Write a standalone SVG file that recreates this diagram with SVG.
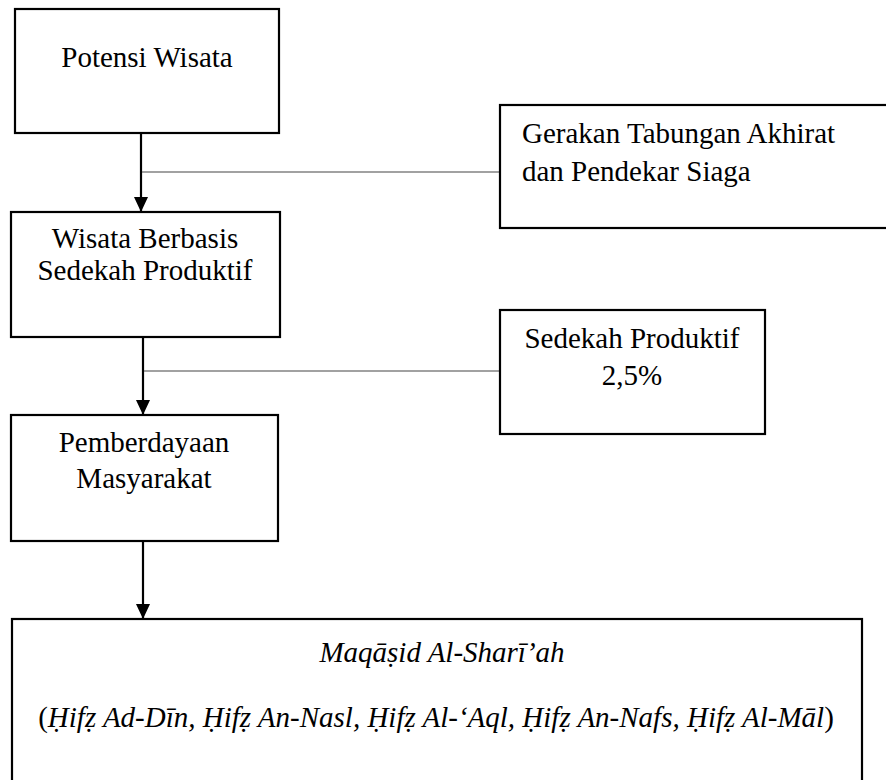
<svg xmlns="http://www.w3.org/2000/svg" width="886" height="780" viewBox="0 0 886 780" font-family="'Liberation Serif', Tinos, 'Times New Roman', 'DejaVu Serif', serif">
  <defs>
    <marker id="arrow" markerWidth="15" markerHeight="14" refX="15" refY="7" orient="auto" markerUnits="userSpaceOnUse">
      <path d="M0,0 L15,7 L0,14 Z" fill="#000"/>
    </marker>
    <style>
      .box { fill: #fff; stroke: #000; stroke-width: 2.2; }
      text { font-family: 'Liberation Serif', Tinos, 'Times New Roman', 'DejaVu Serif', serif; font-size: 29px; fill: #000; }
      .mid { text-anchor: middle; }
      .it { font-style: italic; }
      .flow { stroke: #000; stroke-width: 2.2; fill: none; }
      .side { stroke: #444; stroke-width: 1.2; fill: none; }
    </style>
  </defs>

  <rect width="886" height="780" fill="#fff"/>

  <!-- connectors -->
  <g id="connectors">
    <line class="flow" x1="141" y1="133" x2="141" y2="212" marker-end="url(#arrow)"/>
    <line class="side" x1="142" y1="172" x2="500" y2="172"/>
    <line class="flow" x1="143" y1="337" x2="143" y2="415" marker-end="url(#arrow)"/>
    <line class="side" x1="144" y1="371" x2="500" y2="371"/>
    <line class="flow" x1="143" y1="541" x2="143" y2="619" marker-end="url(#arrow)"/>
  </g>

  <g id="potensi-wisata">
    <rect class="box" x="15" y="9" width="264" height="124"/>
    <text class="mid" x="147" y="67">Potensi Wisata</text>
  </g>

  <g id="gerakan-tabungan">
    <rect class="box" x="500" y="105" width="400" height="123"/>
    <text x="522" y="143">Gerakan Tabungan Akhirat</text>
    <text x="522" y="181">dan Pendekar Siaga</text>
  </g>

  <g id="wisata-berbasis">
    <rect class="box" x="11" y="212" width="269" height="125"/>
    <text class="mid" x="145" y="248">Wisata Berbasis</text>
    <text class="mid" x="145" y="280">Sedekah Produktif</text>
  </g>

  <g id="sedekah-produktif">
    <rect class="box" x="500" y="310" width="265" height="124"/>
    <text class="mid" x="632" y="348">Sedekah Produktif</text>
    <text class="mid" x="632" y="385">2,5%</text>
  </g>

  <g id="pemberdayaan">
    <rect class="box" x="11" y="415" width="267" height="126"/>
    <text class="mid" x="144" y="452">Pemberdayaan</text>
    <text class="mid" x="144" y="488">Masyarakat</text>
  </g>

  <g id="maqasid">
    <rect class="box" x="12" y="619" width="850" height="200"/>
    <text class="mid it" x="442" y="662">Maqāṣid Al-Sharī’ah</text>
    <text class="mid" x="436" y="727">(<tspan class="it">Ḥifẓ Ad-Dīn, Ḥifẓ An-Nasl, Ḥifẓ Al-‘Aql, Ḥifẓ An-Nafs, Ḥifẓ Al-Māl</tspan>)</text>
  </g>
</svg>
